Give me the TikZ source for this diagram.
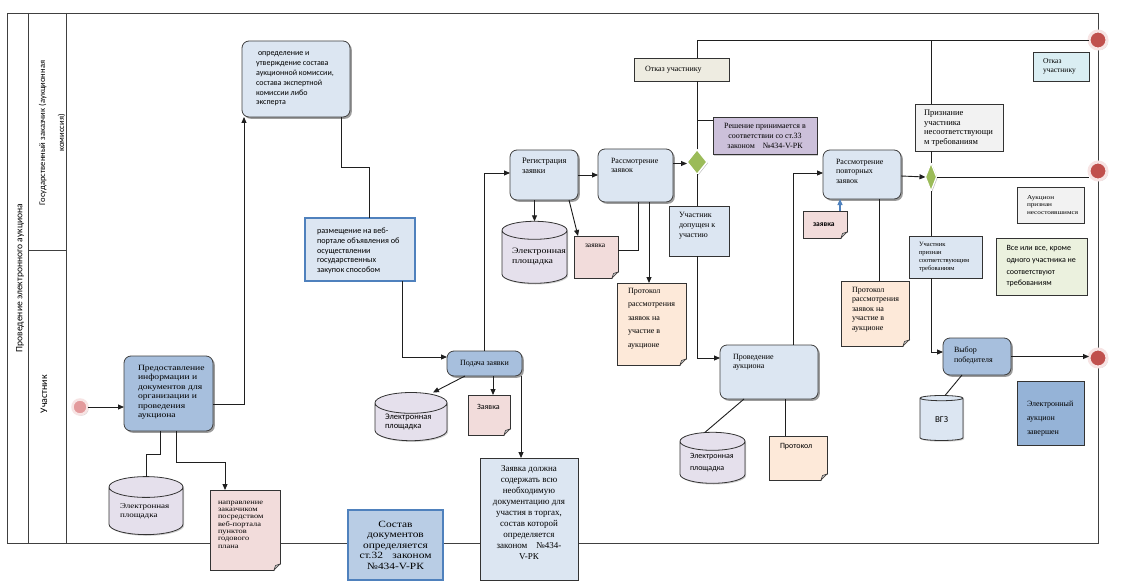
\documentclass[tikz,border=0pt]{standalone}
\usepackage{fontspec}
\setmainfont{Liberation Serif}
\newfontfamily\carl{Carlito}
\newfontfamily\wserif{Liberation Serif}[FakeStretch=1.2]
\usetikzlibrary{arrows.meta,shapes.geometric,shadows}
\definecolor{tLight}{HTML}{DCE6F2}
\definecolor{tDark}{HTML}{A7BFDD}
\definecolor{docPink}{HTML}{F2DCDB}
\definecolor{docPeach}{HTML}{FDE9D9}
\definecolor{cylLav}{HTML}{E5E0EC}
\definecolor{annBeige}{HTML}{EEECE1}
\definecolor{annPurple}{HTML}{CCC0DA}
\definecolor{annGrey}{HTML}{F2F2F2}
\definecolor{annCyan}{HTML}{DAEEF3}
\definecolor{annOlive}{HTML}{EBF1DE}
\definecolor{annBlue}{HTML}{95B3D7}
\definecolor{sostFill}{HTML}{B9CDE5}
\definecolor{blueB}{HTML}{4F81BD}
\definecolor{gwGreen}{HTML}{9BBB59}
\definecolor{startFill}{HTML}{E39A9C}
\definecolor{startRing}{HTML}{F7E4E4}
\definecolor{endFill}{HTML}{C0504D}
\definecolor{endRing}{HTML}{F7E4E4}
\newcommand{\fS}[2]{\fontsize{#1}{#2}\selectfont}
\newcommand{\pbt}[3]{\parbox[c][#2][t]{#1}{\raggedright #3}}
\newcommand{\pbc}[3]{\parbox[c][#2][t]{#1}{\centering #3}}
\newcommand{\pbl}[2]{\parbox{#1}{\raggedright #2}}
\newcommand{\fold}[1]{%
  \fill[white] ([xshift=-6pt,yshift=-1pt]#1.south east) -- ([xshift=1pt,yshift=6pt]#1.south east) -- ([xshift=1pt,yshift=-1pt]#1.south east) -- cycle;
  \filldraw[fill=black!20, draw=black!80, line width=0.6pt] ([xshift=-6pt]#1.south east) -- ([yshift=6pt]#1.south east) -- ([xshift=-4.5pt,yshift=4.5pt]#1.south east) -- cycle;
}
\tikzset{
 pool/.style={draw=black!75, line width=0.8pt},
 conn/.style={draw=black!88, line width=0.9pt},
 arr/.style={-{Triangle[length=6pt,width=5pt]}},
 blueconn/.style={draw=blueB, line width=1.2pt},
 shd/.style={drop shadow={shadow xshift=1.8pt, shadow yshift=-1.8pt, opacity=0.55, fill=black!70}},
 lshd/.style={drop shadow={shadow xshift=1.2pt, shadow yshift=-1.2pt, opacity=0.3, fill=black!60}},
 task/.style={rectangle, rounded corners=7pt, draw=black!75, line width=0.8pt, shd},
 taskL/.style={task, fill=tLight},
 taskD/.style={task, fill=tDark},
 doc/.style={rectangle, draw=black!80, line width=0.7pt, lshd},
 ann/.style={rectangle, draw=black!80, line width=0.8pt, lshd},
 cyl/.style={cylinder, shape border rotate=90, aspect=0.4, draw=black!80, line width=0.8pt, lshd},
 gw/.style={diamond, fill=gwGreen, draw=white, line width=1.5pt, drop shadow={shadow xshift=1pt, shadow yshift=-1pt, opacity=0.5}},
 startev/.style={circle, minimum size=15pt, fill=startFill, draw=startRing, line width=2.5pt, lshd},
 endev/.style={circle, minimum size=18pt, fill=endFill, draw=endRing, line width=3pt, lshd},
 razmst/.style={rectangle, fill=tLight, draw=blueB, line width=1.6pt, lshd},
 sostst/.style={rectangle, fill=sostFill, draw=blueB, line width=2pt, lshd},
}
\begin{document}
\begin{tikzpicture}[x=1pt,y=-1pt, every node/.style={inner sep=0pt, outer sep=0pt}]
\fill[white] (0,0) rectangle (1123,588);
\useasboundingbox (0,0) rectangle (1123,588);
% pool
\draw[pool] (7,13) rectangle (1098,543);
\draw[pool] (28,13) -- (28,543);
\draw[pool] (66,13) -- (66,543);
\draw[pool] (28,250) -- (66,250);
\node[rotate=90, font=\carl\fS{9.6}{12}] (poolT) at (20,278) {Проведение электронного аукциона};
\node[rotate=90, font=\carl\fS{8.6}{19}, align=center] (lane1) at (52,133) {Государственный заказчик (аукционная\\комиссия)};
\node[rotate=90, font=\carl\fS{10}{12}] (lane2) at (44,394) {Участник};

% lane 1
\node[taskL, minimum width=108pt, minimum height=76pt, font=\carl\fS{8}{9.8}] (opred) at (296,79) {\pbt{80pt}{54pt}{\hspace{2pt}определение и\\утверждение состава\\аукционной комиссии,\\состава экспертной\\комиссии либо\\эксперта}};
\node[razmst, minimum width=110pt, minimum height=63pt, font=\carl\fS{8.2}{9.8}] (razm) at (360,249.5) {\pbt{86pt}{43pt}{размещение на веб-\\портале объявления об\\осуществлении\\государственных\\закупок способом}};
\node[taskL, minimum width=68pt, minimum height=50pt, font=\fS{8.4}{9.7}] (reg) at (544,175) {\pbt{44pt}{34pt}{Регистрация\\заявки}};
\node[taskL, minimum width=75pt, minimum height=53pt, font=\fS{8}{9.5}] (rasm) at (635.5,175.5) {\pbt{49pt}{35pt}{Рассмотрение\\заявок}};
\node[gw, minimum width=20pt, minimum height=25pt] (gw1) at (697,162) {};
\node[ann, fill=annBeige, minimum width=95pt, minimum height=23pt, font=\fS{8}{9.5}] (otkaz1) at (681.5,69.5) {\pbl{73pt}{Отказ участнику}};
\node[ann, fill=annPurple, minimum width=104pt, minimum height=37pt, font=\fS{8}{10}, align=center] (resh) at (765,136) {Решение принимается в\\соответствии со ст.33\\законом\quad №434-V-РК};
\node[ann, fill=tLight, minimum width=60pt, minimum height=50pt, font=\fS{8}{10}] (dop) at (699,231) {\pbt{40pt}{38pt}{Участник\\допущен к\\участию}};
\node[doc, fill=docPink, minimum width=44pt, minimum height=42pt, font=\fS{7.5}{9}] (zv2) at (596,257) {\pbt{22pt}{26pt}{заявка}};
\fold{zv2}
\node[doc, fill=docPeach, minimum width=69pt, minimum height=82pt, font=\fS{8}{13.5}] (prot1) at (651.5,324) {\pbt{47pt}{72pt}{Протокол\\рассмотрения\\заявок на\\участие в\\аукционе}};
\fold{prot1}
\node[cyl, fill=cylLav, minimum width=65pt, minimum height=62pt, font=\wserif\fS{8.2}{10}] (cyl3) at (534.5,257) {\pbl{45pt}{Электронная\\площадка}};
\node[taskL, minimum width=78pt, minimum height=49pt, font=\fS{8}{9.5}] (povt) at (862,174.5) {\pbt{52pt}{31pt}{Рассмотрение\\повторных\\заявок}};
\node[doc, fill=docPink, minimum width=44pt, minimum height=27pt, font=\carl\bfseries\fS{7.5}{9}] (zv3) at (825,224.5) {\pbl{24pt}{заявка}};
\fold{zv3}
\node[doc, fill=docPeach, minimum width=68pt, minimum height=65pt, font=\fS{8}{9.5}] (prot3) at (875,313.5) {\pbt{46pt}{53pt}{Протокол\\рассмотрения\\заявок на\\участие в\\аукционе}};
\fold{prot3}
\node[gw, minimum width=11pt, minimum height=28pt, line width=1.2pt] (gw2) at (931,177) {};
\node[ann, fill=annGrey, minimum width=88pt, minimum height=47pt, font=\fS{8.5}{9.7}] (prizn) at (959,127.5) {\pbt{70pt}{35pt}{Признание\\участника\\несоответствующи\\м требованиям}};
\node[ann, fill=annCyan, minimum width=56pt, minimum height=29pt, font=\fS{7.5}{8.5}] (otkaz2) at (1061,66.5) {\pbl{36pt}{Отказ\\участнику}};
\node[ann, fill=annGrey, minimum width=67pt, minimum height=36pt, font=\wserif\fS{6}{7.7}] (nesost) at (1050.5,205) {\pbl{47pt}{Аукцион\\признан\\несостоявшимся}};
\node[ann, fill=annOlive, minimum width=91pt, minimum height=57pt, font=\carl\fS{8}{11.7}] (vse) at (1041.5,266.5) {\pbl{70pt}{Все или все, кроме\\одного участника не\\соответствуют\\требованиям}};
\node[ann, fill=tLight, minimum width=73pt, minimum height=42pt, font=\fS{6.5}{7.9}] (ps) at (945.5,257) {\pbl{53pt}{Участник\\признан\\соответствующим\\требованиям}};

% lane 2
\node[taskD, minimum width=89pt, minimum height=75pt, font=\wserif\fS{8}{9.5}] (pred) at (168.5,393.5) {\pbt{71pt}{57pt}{\leftskip=5pt Предоставление\\информации и\\документов для\\организации и\\проведения\\аукциона}};
\node[cyl, fill=cylLav, minimum width=74pt, minimum height=58pt, font=\wserif\fS{7.5}{9}] (cyl1) at (146,511) {\pbl{52pt}{Электронная\\площадка}};
\node[doc, fill=docPink, minimum width=70pt, minimum height=80pt, font=\wserif\fS{7}{7.3}] (napr) at (245,530) {\pbt{54pt}{58pt}{направление\\заказчиком\\посредством\\веб-портала\\пунктов\\годового\\плана}};
\fold{napr}
\node[sostst, minimum width=95pt, minimum height=70pt, font=\wserif\fS{9.5}{10.5}, align=center] (sost) at (395.5,545) {Состав\\документов\\определяется\\ст.32\quad законом\\№434-V-РК};
\node[taskD, minimum width=75pt, minimum height=25pt, font=\fS{8}{9.5}] (pod) at (484.5,363.5) {Подача заявки};
\node[cyl, fill=cylLav, minimum width=72pt, minimum height=48pt, font=\carl\fS{8.5}{9.7}] (cyl2) at (411,422) {\pbl{52pt}{Электронная\\площадка}};
\node[doc, fill=docPink, minimum width=42pt, minimum height=40pt, font=\carl\fS{8}{9}] (zv1) at (489,415) {\pbt{24pt}{22pt}{Заявка}};
\fold{zv1}
\node[ann, fill=tLight, minimum width=98pt, minimum height=122pt, font=\fS{9}{10.9}] (dolzh) at (529,519) {\pbc{92pt}{106pt}{Заявка должна\\содержать всю\\необходимую\\документацию для\\участия в торгах,\\состав которой\\определяется\\законом\quad №434-\\V-РК}};
\node[taskL, minimum width=98pt, minimum height=54pt, font=\fS{8}{9.5}] (prov) at (769,372) {\pbt{72pt}{36pt}{Проведение\\аукциона}};
\node[cyl, fill=cylLav, minimum width=65pt, minimum height=51pt, font=\carl\fS{8}{11.7}] (cyl4) at (712.5,462.5) {\pbl{45pt}{Электронная\\площадка}};
\node[doc, fill=docPeach, minimum width=58pt, minimum height=44pt, font=\carl\fS{8}{9.5}] (prot2) at (798,458) {\pbt{36pt}{30pt}{Протокол}};
\fold{prot2}
\node[taskD, minimum width=68pt, minimum height=37pt, font=\fS{8}{10}] (vybor) at (977,356.5) {\pbt{46pt}{19pt}{Выбор\\победителя}};
\node[cyl, fill=tLight, minimum width=43pt, minimum height=45pt, font=\carl\fS{9}{10}] (vgz) at (941.5,419.5) {ВГЗ};
\node[ann, fill=annBlue, minimum width=67pt, minimum height=64pt, font=\fS{8}{14}] (zav) at (1050.5,413) {\pbt{47pt}{24pt}{Электронный\\аукцион\\завершен}};

% events
\node[startev] (start) at (80,407) {};
\node[endev] (end1) at (1098,40) {};
\node[endev] (end2) at (1098,171) {};
\node[endev] (end3) at (1098,358) {};

% connectors
\draw[conn,arr] (start) -- (pred.west |- start);
\draw[conn,arr] ([yshift=-10.5pt]pred.east) -| ([xshift=2pt]opred.south west);
\draw[conn] ([xshift=45pt]opred.south) -- ++(0,50) -| ([xshift=9pt]razm.north);
\draw[conn,arr] ([xshift=42pt]razm.south) |- ([yshift=6.5pt]pod.west);
\draw[conn,arr] (pod.north) |- ([yshift=2pt]reg.west);
\draw[conn,arr] ([xshift=-19.5pt]pod.south) -- ([xshift=22pt]cyl2.north);
\draw[conn,arr] ([xshift=8.5pt]pod.south) -- ([xshift=8.5pt]pod.south |- zv1.north);
\draw[conn,arr] ([xshift=-1pt]pod.south east) -- ([xshift=-1pt]pod.south east |- dolzh.north);
\draw[conn,arr] (cyl3.north |- reg.south) -- (cyl3.north);
\draw[conn,arr] ([xshift=25pt]reg.south) -- ([xshift=-18pt]zv2.north);
\draw[conn,arr] (reg.east) -- (reg.east -| rasm.west);
\draw[conn] ([yshift=7pt]zv2.east) -| ([xshift=2.5pt]rasm.south);
\draw[conn,arr] ([xshift=13.5pt]rasm.south) -- ([xshift=13.5pt]rasm.south |- prot1.north);
\draw[conn,arr] ([yshift=12pt]rasm.east) -- ([yshift=12pt]rasm.east -| gw1.west);
\draw[conn] (gw1.north) -- (gw1.north |- otkaz1.south);
\draw[conn] (gw1.north |- otkaz1.north) |- (end1.west);
\draw[conn] ([yshift=16pt]resh.west) -- ([yshift=16pt]resh.west -| gw1.north);
\draw[conn] (gw1.south) -- (gw1.south |- dop.north);
\draw[conn,arr] (gw1.south |- dop.south) |- ([yshift=14pt]prov.west);
\draw[conn,arr] ([xshift=24pt]prov.north) |- ([yshift=1.5pt]povt.west);
\draw[conn] ([xshift=-25pt]prov.south) -- ([xshift=-7.5pt]cyl4.north);
\draw[conn] ([xshift=16pt]prov.south) -- ([xshift=16pt]prov.south |- prot2.north);
\draw[blueconn,arr] ([xshift=15pt]zv3.north) -- ([xshift=15pt]zv3.north |- povt.south);
\draw[conn] ([xshift=17pt]povt.south) -- ([xshift=17pt]povt.south |- prot3.north);
\draw[conn,arr] ([yshift=-1.5pt]povt.east) -- (gw2.west);
\draw[conn] (gw2.east) -- (gw2.east -| end2.west);
\draw[conn] (gw2.north) -- (gw2.north |- prizn.south);
\draw[conn] (gw2.north |- prizn.north) -- (gw2.north |- end1.west);
\draw[conn] (gw2.south) -- (gw2.south |- ps.north);
\draw[conn,arr] (gw2.south |- ps.south) |- ([yshift=4.5pt]vybor.west);
\draw[conn,arr] (vybor.east) -- (vybor.east -| end3.west);
\draw[conn] ([xshift=-15pt]vybor.south) -- ([xshift=3.5pt]vgz.north);
\draw[conn] ([xshift=-8pt]pred.south) -- ++(0,23) -| (cyl1.north);
\draw[conn,arr] ([xshift=7.5pt]pred.south) -- ++(0,31) -| ([xshift=-20pt]napr.north);
\end{tikzpicture}
\end{document}
